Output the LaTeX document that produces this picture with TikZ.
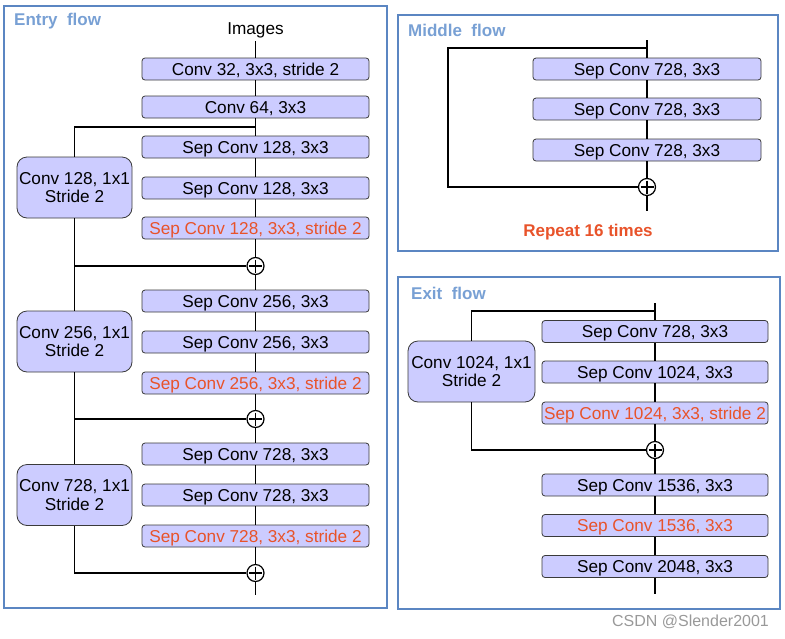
\documentclass[tikz,border=0pt]{standalone}
\usepackage{fontspec}
\setmainfont{Liberation Sans}
\definecolor{boxfill}{HTML}{CCCCFF}
\definecolor{boxline}{HTML}{3A3A3A}
\definecolor{redtxt}{HTML}{E8532A}
\definecolor{titleblue}{HTML}{78A0D4}
\definecolor{frameblue}{HTML}{5B86C2}
\tikzset{
  layer/.style={draw=boxline, fill=boxfill, rounded corners=3pt, line width=0.8pt,
    minimum width=227pt, minimum height=22pt, inner sep=0pt,
    text height=12.3pt, text depth=0pt,
    font=\fontsize{17.2}{19}\selectfont},
  redlayer/.style={layer, text=redtxt},
  sidebox/.style={draw=boxline, fill=boxfill, rounded corners=10pt, line width=0.8pt,
    minimum height=61pt, inner sep=0pt, align=center,
    font=\fontsize{17.2}{18.5}\selectfont},
  addnode/.style={circle, draw=black, fill=white, line width=1.2pt, minimum size=17pt, inner sep=0pt,
    path picture={\draw[line width=1.2pt]
      ([yshift=6.5pt]path picture bounding box.center) -- ([yshift=-6.5pt]path picture bounding box.center)
      ([xshift=-6.5pt]path picture bounding box.center) -- ([xshift=6.5pt]path picture bounding box.center);}},
  frame/.style={draw=frameblue, line width=1.3pt},
  title/.style={anchor=west, text=titleblue, font=\fontsize{17}{19}\selectfont\bfseries, inner sep=0pt,
    text height=12.2pt, text depth=0pt},
  wire/.style={line width=1.4pt, draw=black},
}
\begin{document}
\begin{tikzpicture}[x=1pt,y=-1pt]
\useasboundingbox (0,0) rectangle (785,638);
% ---------------- Entry flow ----------------
\draw[frame] (4,6) rectangle (387,608);
\node[title] (etitle) at (14,19) {Entry\ \ flow};
\node[font=\fontsize{17.2}{19}\selectfont, inner sep=0pt, text height=12.3pt, text depth=0pt] (img) at (255.5,28.5) {Images};
\coordinate (imgline) at (255.5,41);
\node[layer] (e1) at (255.5,69) {Conv 32, 3x3, stride 2};
\node[layer] (e2) at (255.5,107) {Conv 64, 3x3};
\coordinate (eb1) at (255.5,127);
\node[layer] (e3) at (255.5,147) {Sep Conv 128, 3x3};
\node[layer] (e4) at (255.5,188) {Sep Conv 128, 3x3};
\node[redlayer] (e5) at (255.5,228) {Sep Conv 128, 3x3, stride 2};
\node[addnode] (ep1) at (255.5,266) {};
\node[sidebox, minimum width=115pt] (es1) at (74.5,187.5) {Conv 128, 1x1\\Stride 2};
\node[layer] (e6) at (255.5,301) {Sep Conv 256, 3x3};
\node[layer] (e7) at (255.5,342) {Sep Conv 256, 3x3};
\node[redlayer] (e8) at (255.5,383) {Sep Conv 256, 3x3, stride 2};
\node[addnode] (ep2) at (255.5,419) {};
\node[sidebox, minimum width=115pt] (es2) at (74.5,341.5) {Conv 256, 1x1\\Stride 2};
\node[layer] (e9) at (255.5,454) {Sep Conv 728, 3x3};
\node[layer] (e10) at (255.5,495) {Sep Conv 728, 3x3};
\node[redlayer] (e11) at (255.5,536) {Sep Conv 728, 3x3, stride 2};
\node[addnode] (ep3) at (255.5,573) {};
\node[sidebox, minimum width=115pt] (es3) at (74.5,495) {Conv 728, 1x1\\Stride 2};
\coordinate (eend) at (255.5,595);
\draw[wire] (imgline) -- (e1.north);
\draw[wire] (e1.south) -- (e2.north);
\draw[wire] (e2.south) -- (e3.north);
\draw[wire] (eb1) -| (es1.north);
\draw[wire] (e3.south) -- (e4.north);
\draw[wire] (e4.south) -- (e5.north);
\draw[wire] (e5.south) -- (ep1.north);
\draw[wire] (es1.south) |- (ep1.west);
\draw[wire] (es1.south) -- (es2.north);
\draw[wire] (ep1.south) -- (e6.north);
\draw[wire] (e6.south) -- (e7.north);
\draw[wire] (e7.south) -- (e8.north);
\draw[wire] (e8.south) -- (ep2.north);
\draw[wire] (es2.south) |- (ep2.west);
\draw[wire] (es2.south) -- (es3.north);
\draw[wire] (ep2.south) -- (e9.north);
\draw[wire] (e9.south) -- (e10.north);
\draw[wire] (e10.south) -- (e11.north);
\draw[wire] (e11.south) -- (ep3.north);
\draw[wire] (es3.south) |- (ep3.west);
\draw[wire] (ep3.south) -- (eend);
% ---------------- Middle flow ----------------
\draw[frame] (398,15) rectangle (778,251);
\node[title] (mtitle) at (408,30) {Middle\ \ flow};
\coordinate (mtop) at (647,40);
\coordinate (mb) at (647,48);
\coordinate (ml) at (448,120);
\node[layer, minimum width=228pt] (m1) at (647,69) {Sep Conv 728, 3x3};
\node[layer, minimum width=228pt] (m2) at (647,109) {Sep Conv 728, 3x3};
\node[layer, minimum width=228pt] (m3) at (647,150) {Sep Conv 728, 3x3};
\node[addnode] (mp) at (647,187) {};
\coordinate (mend) at (647,211);
\node[text=redtxt, font=\fontsize{17}{19}\selectfont\bfseries, inner sep=0pt, text height=12.2pt, text depth=0pt] (rep) at (588,230) {Repeat 16 times};
\draw[wire] (mtop) -- (m1.north);
\draw[wire] (mb) -| (ml) |- (mp.west);
\draw[wire] (m1.south) -- (m2.north);
\draw[wire] (m2.south) -- (m3.north);
\draw[wire] (m3.south) -- (mp.north);
\draw[wire] (mp.south) -- (mend);
% ---------------- Exit flow ----------------
\draw[frame] (398,277) rectangle (780,609);
\node[title] (xtitle) at (411,293) {Exit\ \ flow};
\coordinate (xtop) at (655,303);
\coordinate (xb) at (655,311);
\node[layer, minimum width=226pt] (x1) at (655,331.5) {Sep Conv 728, 3x3};
\node[layer, minimum width=226pt] (x2) at (655,372) {Sep Conv 1024, 3x3};
\node[redlayer, minimum width=226pt] (x3) at (655,413) {Sep Conv 1024, 3x3, stride 2};
\node[addnode] (xp) at (655,450) {};
\node[layer, minimum width=226pt] (x4) at (655,485) {Sep Conv 1536, 3x3};
\node[redlayer, minimum width=226pt] (x5) at (655,525.5) {Sep Conv 1536, 3x3};
\node[layer, minimum width=226pt] (x6) at (655,566.5) {Sep Conv 2048, 3x3};
\coordinate (xend) at (655,594);
\node[sidebox, minimum width=127pt] (xs) at (471.5,371.5) {Conv 1024, 1x1\\Stride 2};
\draw[wire] (xtop) -- (x1.north);
\draw[wire] (xb) -| (xs.north);
\draw[wire] (x1.south) -- (x2.north);
\draw[wire] (x2.south) -- (x3.north);
\draw[wire] (x3.south) -- (xp.north);
\draw[wire] (xs.south) |- (xp.west);
\draw[wire] (xp.south) -- (x4.north);
\draw[wire] (x4.south) -- (x5.north);
\draw[wire] (x5.south) -- (x6.north);
\draw[wire] (x6.south) -- (xend);
% watermark
\node[text=black!40, font=\fontsize{16}{18}\selectfont, inner sep=0pt] (wm) at (690.5,622) {CSDN @Slender2001};
\end{tikzpicture}
\end{document}
